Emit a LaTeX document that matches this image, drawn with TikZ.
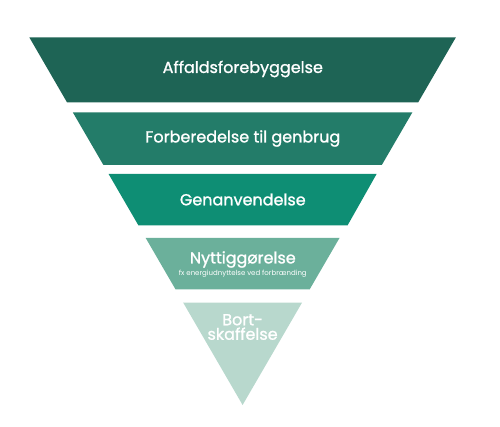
\documentclass[tikz,border=0pt]{standalone}
\usepackage{fontspec}
\setmainfont{Poppins}
\newfontfamily\medfont{Poppins}[FakeBold=1.2]
\definecolor{cA}{HTML}{1E6455}
\definecolor{cB}{HTML}{237C69}
\definecolor{cC}{HTML}{0E8E74}
\definecolor{cD}{HTML}{6BB09B}
\definecolor{cE}{HTML}{B8D8CD}
\begin{document}
\begin{tikzpicture}[x=1pt,y=-1pt,
  lbl/.style={text=white,font=\medfont\fontsize{16}{14.5}\selectfont,inner sep=0pt,anchor=center},
  sublbl/.style={text=white,font=\fontsize{7}{8}\selectfont,inner sep=0pt,anchor=center}]
\useasboundingbox (0,0) rectangle (500,427);
% layers of the inverted pyramid
\fill[cA] (29.4,37.5) -- (455.8,37.5) -- (418.1,102.5) -- (67.1,102.5) -- cycle;
\fill[cB] (72.9,112.5) -- (412.3,112.5) -- (381.8,165) -- (103.4,165) -- cycle;
\fill[cC] (108.6,174) -- (376.6,174) -- (347.5,225.5) -- (138.5,225.5) -- cycle;
\fill[cD] (145.7,238) -- (339.5,238) -- (309.6,289.5) -- (175.6,289.5) -- cycle;
\fill[cE] (183.1,302.5) -- (302.1,302.5) -- (242.6,405) -- cycle;
% labels
\node[lbl] (l1) at (242.8,69) {Affaldsforebyggelse};
\node[lbl] (l2) at (242.8,138.5) {Forberedelse til genbrug};
\node[lbl] (l3) at (242.8,199.5) {Genanvendelse};
\node[lbl] (l4) at (242.8,259.5) {Nyttiggørelse};
\node[sublbl] (l4s) at (242.8,274) {fx energiudnyttelse ved forbrænding};
\node[lbl,align=center] (l5) at (242.6,327) {Bort-\\skaffelse};
\end{tikzpicture}
\end{document}
